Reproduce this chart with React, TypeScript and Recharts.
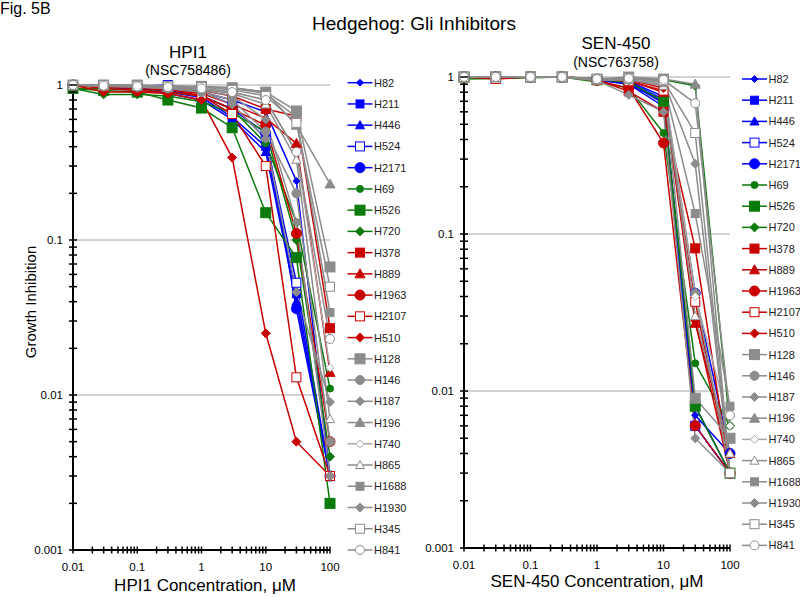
import React from 'react';
import { LineChart, Line, XAxis, YAxis, ReferenceLine } from 'recharts';

// ---------- data ----------
const CONC = [0.01, 0.03, 0.1, 0.3, 1, 3, 10, 30, 100];
const CELL_LINES = ['H82', 'H211', 'H446', 'H524', 'H2171', 'H69', 'H526', 'H720', 'H378', 'H889', 'H1963', 'H2107', 'H510', 'H128', 'H146', 'H187', 'H196', 'H740', 'H865', 'H1688', 'H1930', 'H345', 'H841'];
const X_TICK_LABELS = [0.01, 0.1, 1, 10, 100];
const Y_TICK_LABELS = [0.001, 0.01, 0.1, 1];
const GRID_VALUES = [1, 0.1, 0.01];

// HPI1 (NSC758486)
const HPI1_H82 = [1, 0.98, 0.97, 0.95, 0.9, 0.8, 0.67, 0.24, 0.003];
const HPI1_H211 = [1, 0.97, 0.95, 0.9, 0.83, 0.62, 0.4, 0.045, 0.003];
const HPI1_H446 = [1, 0.97, 0.94, 0.88, 0.8, 0.6, 0.37, 0.04, 0.003];
const HPI1_H524 = [1, 1, 0.98, 1, 0.9, 0.75, 0.45, 0.053, 0.003];
const HPI1_H2171 = [1, 0.98, 0.96, 0.92, 0.85, 0.7, 0.49, 0.036, 0.003];
const HPI1_H69 = [0.95, 0.95, 0.93, 0.9, 0.85, 0.7, 0.42, 0.13, 0.011];
const HPI1_H526 = [0.95, 0.92, 0.9, 0.8, 0.71, 0.53, 0.15, 0.077, 0.002];
const HPI1_H720 = [0.95, 0.87, 0.87, 0.85, 0.78, 0.66, 0.5, 0.1, 0.004];
const HPI1_H378 = [1, 0.98, 0.97, 0.95, 0.92, 0.85, 0.7, 0.63, 0.027];
const HPI1_H889 = [1, 0.97, 0.95, 0.93, 0.88, 0.75, 0.61, 0.42, 0.014];
const HPI1_H1963 = [1, 0.95, 0.92, 0.9, 0.85, 0.7, 0.55, 0.11, 0.005];
const HPI1_H2107 = [1, 0.98, 0.97, 0.95, 0.85, 0.65, 0.3, 0.013, 0.003];
const HPI1_H510 = [1, 0.9, 0.9, 0.88, 0.8, 0.34, 0.025, 0.005, 0.003];
const HPI1_H128 = [1, 1, 1, 0.98, 0.98, 0.96, 0.9, 0.68, 0.067];
const HPI1_H146 = [1, 0.98, 0.97, 0.95, 0.9, 0.8, 0.5, 0.2, 0.005];
const HPI1_H187 = [1, 0.98, 0.97, 0.95, 0.9, 0.75, 0.45, 0.046, 0.009];
const HPI1_H196 = [1, 1, 1, 0.98, 0.97, 0.96, 0.9, 0.55, 0.23];
const HPI1_H740 = [1, 0.99, 0.98, 0.96, 0.95, 0.9, 0.8, 0.37, 0.015];
const HPI1_H865 = [1, 0.99, 0.98, 0.96, 0.94, 0.88, 0.75, 0.33, 0.007];
const HPI1_H1688 = [1, 1, 0.99, 0.98, 0.97, 0.95, 0.88, 0.62, 0.034];
const HPI1_H1930 = [1, 0.99, 0.98, 0.96, 0.93, 0.85, 0.6, 0.13, 0.003];
const HPI1_H345 = [1, 1, 0.99, 0.98, 0.97, 0.93, 0.85, 0.57, 0.05];
const HPI1_H841 = [1, 0.99, 0.98, 0.97, 0.95, 0.9, 0.8, 0.37, 0.023];

// SEN-450 (NSC763758)
const SEN_H82 = [1, 1, 1, 1, 0.97, 0.93, 0.72, 0.007, 0.004];
const SEN_H211 = [1, 1, 1, 1, 0.97, 0.92, 0.68, 0.006, 0.003];
const SEN_H446 = [1, 1, 1, 1, 0.96, 0.9, 0.7, 0.008, 0.003];
const SEN_H524 = [1, 1, 1, 1, 0.96, 0.9, 0.65, 0.006, 0.003];
const SEN_H2171 = [1, 1, 1, 1, 0.97, 0.94, 0.75, 0.042, 0.004];
const SEN_H69 = [1, 1, 1, 1, 0.93, 0.85, 0.44, 0.015, 0.006];
const SEN_H526 = [1, 1, 1, 1, 0.96, 0.93, 0.7, 0.008, 0.003];
const SEN_H720 = [0.97, 0.98, 0.99, 1, 0.98, 0.97, 0.96, 0.88, 0.006];
const SEN_H378 = [1, 1, 1, 1, 0.96, 0.81, 0.6, 0.081, 0.003];
const SEN_H889 = [1, 1, 1, 1, 0.97, 0.95, 0.8, 0.027, 0.004];
const SEN_H1963 = [1, 1, 1, 1, 0.95, 0.85, 0.38, 0.006, 0.003];
const SEN_H2107 = [1, 0.97, 1, 1, 0.97, 0.94, 0.82, 0.037, 0.003];
const SEN_H510 = [1, 1, 1, 1, 0.97, 0.96, 0.85, 0.028, 0.003];
const SEN_H128 = [1, 1, 1, 1, 0.97, 1, 0.97, 0.009, 0.005];
const SEN_H146 = [1, 1, 1, 1, 0.95, 0.96, 0.9, 0.042, 0.003];
const SEN_H187 = [1, 1, 1, 1, 0.95, 0.77, 0.6, 0.005, 0.003];
const SEN_H196 = [1, 1, 1, 1, 0.97, 0.98, 0.97, 0.9, 0.003];
const SEN_H740 = [1, 1, 1, 1, 0.97, 0.96, 0.9, 0.04, 0.006];
const SEN_H865 = [1, 1, 1, 1, 0.97, 0.96, 0.88, 0.03, 0.004];
const SEN_H1688 = [1, 1, 1, 1, 0.97, 0.98, 0.92, 0.135, 0.008];
const SEN_H1930 = [1, 1, 1, 1, 0.97, 0.98, 0.95, 0.28, 0.003];
const SEN_H345 = [1, 1, 1, 1, 0.97, 0.98, 0.95, 0.44, 0.003];
const SEN_H841 = [1, 1, 1, 1, 0.97, 0.98, 0.96, 0.68, 0.007];

const HPI1_SERIES = [HPI1_H82, HPI1_H211, HPI1_H446, HPI1_H524, HPI1_H2171, HPI1_H69, HPI1_H526, HPI1_H720, HPI1_H378, HPI1_H889, HPI1_H1963, HPI1_H2107, HPI1_H510, HPI1_H128, HPI1_H146, HPI1_H187, HPI1_H196, HPI1_H740, HPI1_H865, HPI1_H1688, HPI1_H1930, HPI1_H345, HPI1_H841];
const SEN_SERIES = [SEN_H82, SEN_H211, SEN_H446, SEN_H524, SEN_H2171, SEN_H69, SEN_H526, SEN_H720, SEN_H378, SEN_H889, SEN_H1963, SEN_H2107, SEN_H510, SEN_H128, SEN_H146, SEN_H187, SEN_H196, SEN_H740, SEN_H865, SEN_H1688, SEN_H1930, SEN_H345, SEN_H841];

// ---------- styles ----------
const BLUE = '#0000FF';
const GREEN = '#0A7A0A';
const RED = '#C80000';
const GRAY = '#8C8C8C';
const LGRAY = '#A8A8A8';

type Shape = 'diamond' | 'square' | 'triangle' | 'circle';
interface St { color: string; shape: Shape; size: number; open?: boolean }
const STYLES: St[] = [
  { color: BLUE, shape: 'diamond', size: 7 },
  { color: BLUE, shape: 'square', size: 8 },
  { color: BLUE, shape: 'triangle', size: 9 },
  { color: BLUE, shape: 'square', size: 9, open: true },
  { color: BLUE, shape: 'circle', size: 10 },
  { color: GREEN, shape: 'circle', size: 7 },
  { color: GREEN, shape: 'square', size: 10 },
  { color: GREEN, shape: 'diamond', size: 9 },
  { color: RED, shape: 'square', size: 9 },
  { color: RED, shape: 'triangle', size: 10 },
  { color: RED, shape: 'circle', size: 10 },
  { color: RED, shape: 'square', size: 9, open: true },
  { color: RED, shape: 'diamond', size: 9 },
  { color: GRAY, shape: 'square', size: 10 },
  { color: GRAY, shape: 'circle', size: 9 },
  { color: GRAY, shape: 'diamond', size: 9 },
  { color: GRAY, shape: 'triangle', size: 10 },
  { color: LGRAY, shape: 'diamond', size: 8, open: true },
  { color: GRAY, shape: 'triangle', size: 9, open: true },
  { color: GRAY, shape: 'square', size: 8 },
  { color: GRAY, shape: 'diamond', size: 9 },
  { color: GRAY, shape: 'square', size: 9, open: true },
  { color: GRAY, shape: 'circle', size: 9, open: true },
];

const FONT = '"Liberation Sans", Arial, Helvetica, sans-serif';

function Marker({ cx, cy, st }: { cx: number; cy: number; st: St }) {
  if (cx == null || cy == null || isNaN(cx) || isNaN(cy)) return null;
  const h = st.size / 2;
  const fill = st.open ? '#FFFFFF' : st.color;
  const common = { fill, stroke: st.color, strokeWidth: 1 };
  if (st.shape === 'square') return <rect x={cx - h} y={cy - h} width={st.size} height={st.size} {...common} />;
  if (st.shape === 'circle') return <circle cx={cx} cy={cy} r={h} {...common} />;
  if (st.shape === 'diamond') return <polygon points={`${cx},${cy - h} ${cx + h},${cy} ${cx},${cy + h} ${cx - h},${cy}`} {...common} />;
  return <polygon points={`${cx},${cy - h} ${cx + h},${cy + h * 0.8} ${cx - h},${cy + h * 0.8}`} {...common} />;
}

const isClose = (a: number, b: number) => Math.abs(a - b) / b < 1e-6;

function minorTicks(decades: number[]) {
  const out: number[] = [];
  for (let i = 0; i < decades.length; i++) {
    const d = decades[i];
    if (i === decades.length - 1) { out.push(d); break; }
    for (let k = 1; k <= 9; k++) out.push(d * k);
  }
  return out;
}

const YTick = (props: any) => {
  const { x, y, payload } = props;
  const v = payload.value;
  const label = Y_TICK_LABELS.find((t) => isClose(v, t));
  return (
    <g>
      <line x1={x - 4} x2={x + 4} y1={y} y2={y} stroke="#000" strokeWidth={1.5} />
      {label !== undefined && (
        <text x={x - 10} y={y} dy={4} textAnchor="end" fontSize={11.5} fontFamily={FONT} fill="#000">{String(label)}</text>
      )}
    </g>
  );
};

const XTick = (props: any) => {
  const { x, y, payload } = props;
  const v = payload.value;
  const label = X_TICK_LABELS.find((t) => isClose(v, t));
  return (
    <g>
      <line x1={x} x2={x} y1={y - 3.5} y2={y + 3.5} stroke="#000" strokeWidth={1.5} />
      {label !== undefined && (
        <text x={x} y={y + 21} textAnchor="middle" fontSize={11.5} fontFamily={FONT} fill="#000">{String(label)}</text>
      )}
    </g>
  );
};

function buildTable(series: number[][]) {
  return CONC.map((c, i) => {
    const row: Record<string, number> = { conc: c };
    CELL_LINES.forEach((n, j) => { row[n] = series[j][i]; });
    return row;
  });
}

interface PanelProps {
  series: number[][];
  left: number;
  top: number;
  yAxisWidth: number;
  xAxisHeight: number;
  width: number;
}

function Panel({ series, left, top, yAxisWidth, xAxisHeight, width }: PanelProps) {
  const data = buildTable(series);
  return (
    <div style={{ position: 'absolute', left, top: 0 }}>
      <LineChart width={width} height={597} data={data} margin={{ top, right: 10, bottom: 0, left: 0 }}>
        <XAxis
          dataKey="conc"
          type="number"
          scale="log"
          domain={[0.01, 100]}
          ticks={minorTicks(X_TICK_LABELS)}
          interval={0}
          tick={XTick}
          tickLine={false}
          tickSize={0}
          tickMargin={0}
          height={xAxisHeight}
          axisLine={{ stroke: '#000', strokeWidth: 2 }}
        />
        <YAxis
          type="number"
          scale="log"
          domain={[0.001, 1]}
          ticks={minorTicks(Y_TICK_LABELS)}
          interval={0}
          tick={YTick}
          tickLine={false}
          tickSize={0}
          tickMargin={0}
          width={yAxisWidth}
          axisLine={{ stroke: '#000', strokeWidth: 2 }}
        />
        {GRID_VALUES.map((g) => (
          <ReferenceLine key={g} y={g} stroke="#A6A6A6" strokeWidth={1} ifOverflow="extendDomain" />
        ))}
        {CELL_LINES.map((name, j) => {
          const st = STYLES[j];
          return (
            <Line
              key={name}
              dataKey={name}
              type="linear"
              stroke={st.color}
              strokeWidth={1.5}
              isAnimationActive={false}
              activeDot={false}
              dot={(p: any) => <Marker key={`${name}-${p.index}`} cx={p.cx} cy={p.cy} st={st} />}
            />
          );
        })}
      </LineChart>
    </div>
  );
}

function Legend({ x, y0, step }: { x: number; y0: number; step: number }) {
  return (
    <g>
      {CELL_LINES.map((name, j) => {
        const y = y0 + j * step;
        const st = STYLES[j];
        return (
          <g key={name}>
            <line x1={x} x2={x + 25} y1={y} y2={y} stroke={st.color} strokeWidth={1.5} />
            <Marker cx={x + 12.5} cy={y} st={st} />
            <text x={x + 26.5} y={y + 4} fontSize={11} fontFamily={FONT} fill="#222">{name}</text>
          </g>
        );
      })}
    </g>
  );
}

export default function App() {
  return (
    <div style={{ position: 'absolute', left: 0, top: 0, width: 800, height: 597, background: '#fff', overflow: 'hidden' }}>
      <Panel series={HPI1_SERIES} left={0} top={85} yAxisWidth={73} xAxisHeight={47} width={340} />
      <Panel series={SEN_SERIES} left={400} top={77} yAxisWidth={64} xAxisHeight={49} width={340} />
      <svg width={800} height={597} style={{ position: 'absolute', left: 0, top: 0, pointerEvents: 'none' }}>
        <text x={0} y={14} fontSize={16} fontFamily={FONT} fill="#000">Fig. 5B</text>
        <text x={414} y={30} fontSize={19} textAnchor="middle" fontFamily={FONT} fill="#000">Hedgehog: Gli Inhibitors</text>
        <text x={188} y={58} fontSize={17} textAnchor="middle" fontFamily={FONT} fill="#000">HPI1</text>
        <text x={188} y={75} fontSize={14} textAnchor="middle" fontFamily={FONT} fill="#000">(NSC758486)</text>
        <text x={616} y={49} fontSize={17} textAnchor="middle" fontFamily={FONT} fill="#000">SEN-450</text>
        <text x={616} y={67} fontSize={14} textAnchor="middle" fontFamily={FONT} fill="#000">(NSC763758)</text>
        <text transform="translate(36,302) rotate(-90)" fontSize={15} textAnchor="middle" fontFamily={FONT} fill="#000">Growth Inhibition</text>
        <text x={205} y={591} fontSize={17} textAnchor="middle" fontFamily={FONT} fill="#000">HPI1 Concentration, μM</text>
        <text x={597} y={587} fontSize={17} textAnchor="middle" fontFamily={FONT} fill="#000">SEN-450 Concentration, μM</text>
        <Legend x={347.5} y0={82.7} step={21.24} />
        <Legend x={742} y0={79} step={21.2} />
      </svg>
    </div>
  );
}
